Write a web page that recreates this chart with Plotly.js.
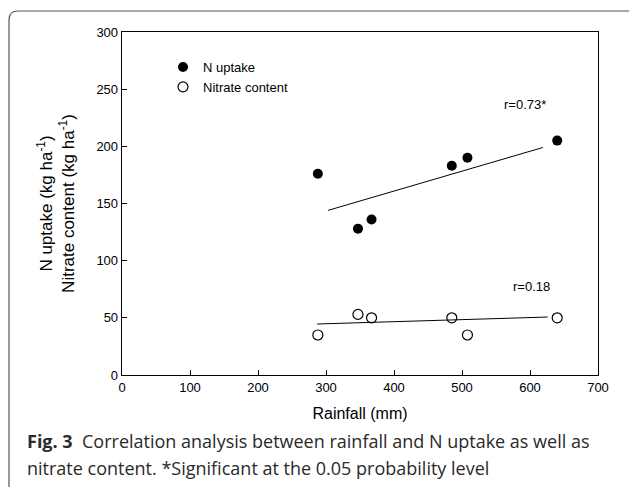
<!DOCTYPE html>
<html>
<head>
<meta charset="utf-8">
<script src="https://cdn.plot.ly/plotly-3.0.1.min.js"></script>
<style>html,body{margin:0;padding:0;background:#fff;}#chart{width:629px;height:487px;}</style>
</head>
<body>
<div id="chart"></div>
<script>
// Data
const rainfall = [288, 347, 367, 485, 508, 640];
const nUptake = [176, 128, 136, 183, 190, 205];
const nitrateContent = [35, 53, 50, 50, 35, 50];
// Regression lines (end points)
const fitNX = [303, 619];
const fitNY = [144, 199];
const fitNitX = [287, 626];
const fitNitY = [44.6, 50.7];
const seriesNames = ['N uptake', 'Nitrate content'];
const rLabels = ['r=0.73*', 'r=0.18'];
const rLabelX = [593, 602];
const rLabelY = [237, 77];
const xTicks = [0, 100, 200, 300, 400, 500, 600, 700];
const yTicks = [0, 50, 100, 150, 200, 250, 300];

const W = 629, H = 487;
const L = 122, R = 31, T = 32, B = 112;
const pw = W - L - R, ph = H - T - B;
const px = v => (v - L) / pw;
const py = v => (H - B - v) / ph;

const axisFont = {family: 'Liberation Sans, Arial, sans-serif', size: 13, color: '#000'};
const capFont = {family: 'Open Sans, sans-serif', size: 18, color: '#2a2a2a'};

const traces = [
  {x: rainfall, y: nUptake, name: seriesNames[0], mode: 'markers', type: 'scatter',
   marker: {symbol: 'circle', size: 10, color: '#000'}},
  {x: rainfall, y: nitrateContent, name: seriesNames[1], mode: 'markers', type: 'scatter',
   marker: {symbol: 'circle-open', size: 10, color: '#000', line: {width: 1.2, color: '#000'}}},
  {x: fitNX, y: fitNY, mode: 'lines', type: 'scatter', showlegend: false,
   line: {color: '#000', width: 1}},
  {x: fitNitX, y: fitNitY, mode: 'lines', type: 'scatter', showlegend: false,
   line: {color: '#000', width: 1}}
];

// rounded border frame (pixels)
const bl = 9, bt = 11, br = 640, bb = 500, rad = 9;
const framePath = `M ${px(bl)},${py(bb)} L ${px(bl)},${py(bt + rad)} Q ${px(bl)},${py(bt)} ${px(bl + rad)},${py(bt)} L ${px(br)},${py(bt)}`;

const annotations = [
  {x: rLabelX[0], y: rLabelY[0], xref: 'x', yref: 'y', text: rLabels[0], showarrow: false, font: axisFont},
  {x: rLabelX[1], y: rLabelY[1], xref: 'x', yref: 'y', text: rLabels[1], showarrow: false, font: axisFont},
  {x: px(25), y: py(455), xref: 'paper', yref: 'paper', xanchor: 'left', yanchor: 'bottom', showarrow: false,
   text: '<b>Fig. 3</b>\u00A0 Correlation analysis between rainfall and N uptake as well as',
   font: capFont},
  {x: px(25), y: py(482), xref: 'paper', yref: 'paper', xanchor: 'left', yanchor: 'bottom', showarrow: false,
   text: 'nitrate content. *Significant at the 0.05 probability level',
   font: capFont}
];

const layout = {
  width: W, height: H,
  margin: {l: L, r: R, t: T, b: B, pad: 0},
  paper_bgcolor: '#fff', plot_bgcolor: '#fff',
  showlegend: true,
  legend: {x: px(163), y: py(52), xanchor: 'left', yanchor: 'top', bgcolor: 'rgba(0,0,0,0)',
    font: axisFont, tracegroupgap: 0},
  xaxis: {range: [0, 700], tickvals: xTicks, ticks: 'inside', ticklen: 5, tickcolor: '#000',
    showline: true, linecolor: '#000', linewidth: 1.3, mirror: true, showgrid: false, zeroline: false,
    tickfont: axisFont,
    title: {text: 'Rainfall (mm)', font: {family: 'Liberation Sans, Arial, sans-serif', size: 16, color: '#000'}, standoff: 14}},
  yaxis: {range: [0, 300], tickvals: yTicks, ticks: 'inside', ticklen: 5, tickcolor: '#000',
    showline: true, linecolor: '#000', linewidth: 1.3, mirror: true, showgrid: false, zeroline: false,
    tickfont: axisFont,
    title: {text: 'N uptake (kg ha<sup>-1</sup>)<br>Nitrate content (kg ha<sup>-1</sup>)',
      font: {family: 'Liberation Sans, Arial, sans-serif', size: 17, color: '#000'}, standoff: 17}},
  shapes: [{type: 'path', xref: 'paper', yref: 'paper', path: framePath,
    line: {color: '#555', width: 1.2}, layer: 'above'}],
  annotations: annotations
};

Plotly.newPlot('chart', traces, layout, {displayModeBar: false, staticPlot: true});
</script>
</body>
</html>
